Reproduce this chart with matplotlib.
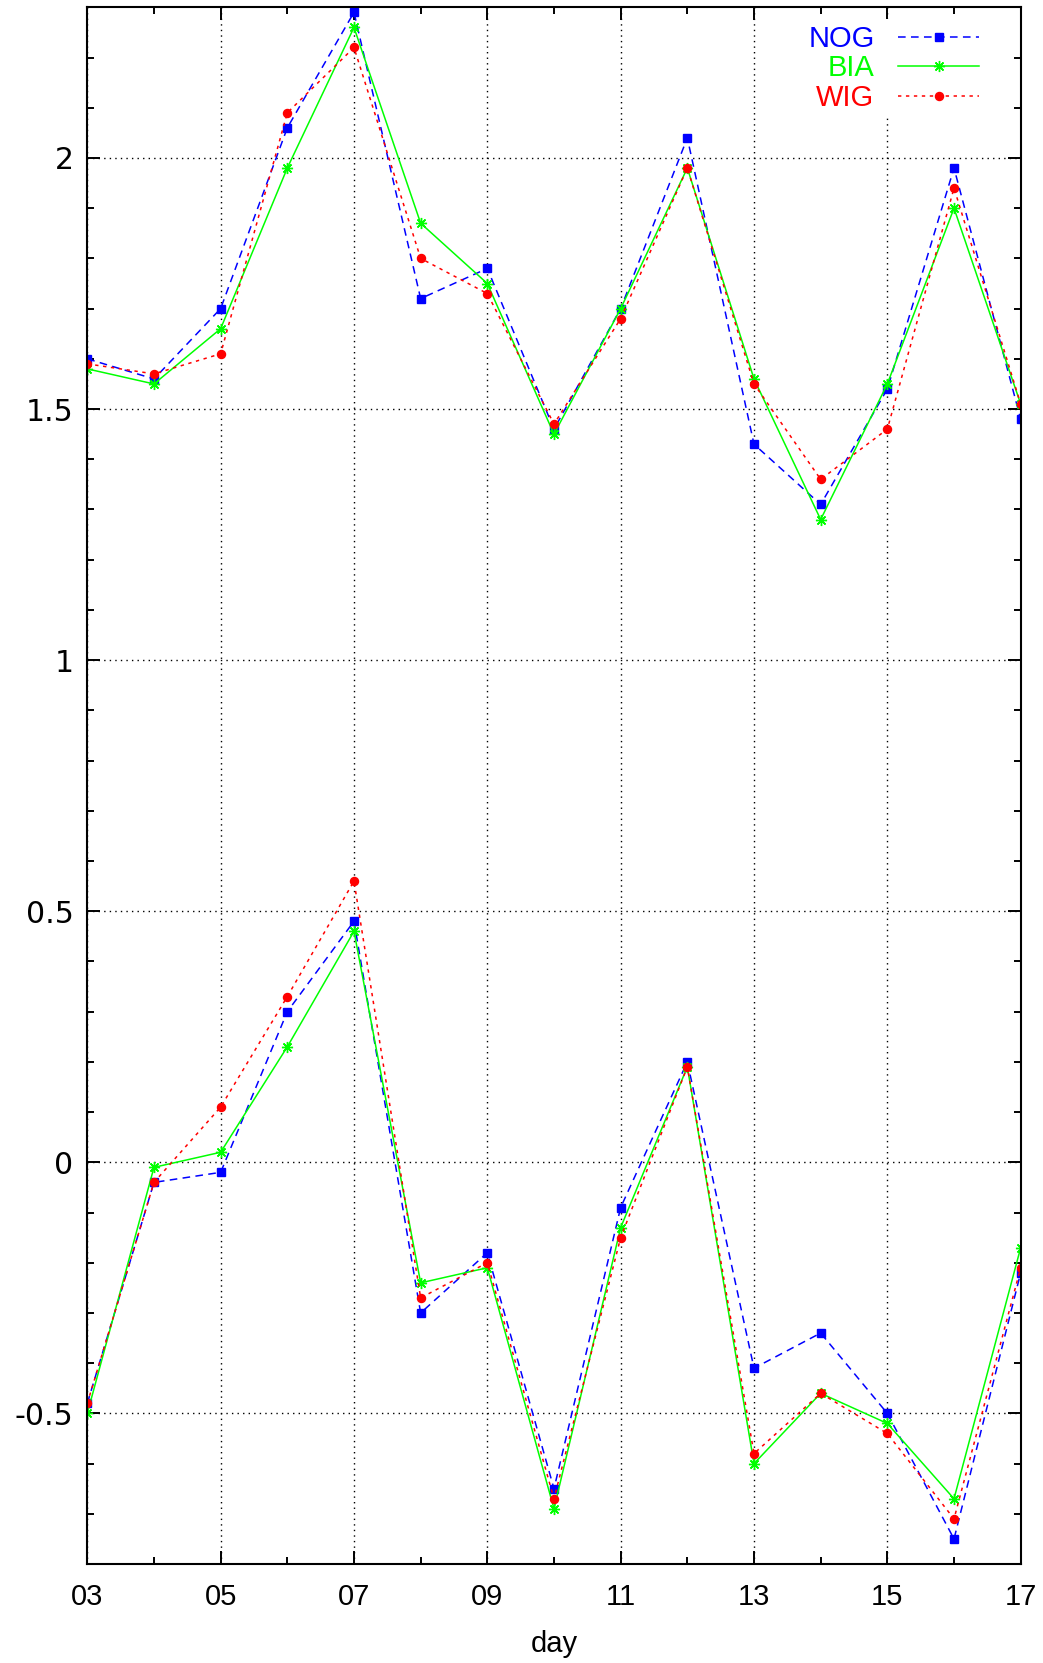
import numpy as np
import matplotlib
matplotlib.use("Agg")
import matplotlib.pyplot as plt
from matplotlib.ticker import MultipleLocator
from matplotlib import font_manager

plt.rcParams['font.family'] = ['Liberation Sans', 'DejaVu Sans']

# days on the x axis
days = [3, 4, 5, 6, 7, 8, 9, 10, 11, 12, 13, 14, 15, 16, 17]

# upper group of curves
nog_hi = [1.60, 1.56, 1.70, 2.06, 2.29, 1.72, 1.78, 1.46, 1.70, 2.04, 1.43, 1.31, 1.54, 1.98, 1.48]
bia_hi = [1.58, 1.55, 1.66, 1.98, 2.26, 1.87, 1.75, 1.45, 1.70, 1.98, 1.56, 1.28, 1.55, 1.90, 1.51]
wig_hi = [1.59, 1.57, 1.61, 2.09, 2.22, 1.80, 1.73, 1.47, 1.68, 1.98, 1.55, 1.36, 1.46, 1.94, 1.51]

# lower group of curves
nog_lo = [-0.48, -0.04, -0.02, 0.30, 0.48, -0.30, -0.18, -0.65, -0.09, 0.20, -0.41, -0.34, -0.50, -0.75, -0.22]
bia_lo = [-0.50, -0.01, 0.02, 0.23, 0.46, -0.24, -0.21, -0.69, -0.13, 0.19, -0.60, -0.46, -0.52, -0.67, -0.17]
wig_lo = [-0.48, -0.04, 0.11, 0.33, 0.56, -0.27, -0.20, -0.67, -0.15, 0.19, -0.58, -0.46, -0.54, -0.71, -0.21]

xtick_vals = [3, 5, 7, 9, 11, 13, 15, 17]
xtick_labels = ["03", "05", "07", "09", "11", "13", "15", "17"]
ytick_vals = [-0.5, 0, 0.5, 1, 1.5, 2]
ytick_labels = ["-0.5", "0", "0.5", "1", "1.5", "2"]

# narrow font for the x labels if there is one
names = {f.name for f in font_manager.fontManager.ttflist}
xfont = 'Liberation Sans Narrow' if 'Liberation Sans Narrow' in names else 'Liberation Sans'

fig = plt.figure(figsize=(10.43, 16.63), dpi=100)
ax = fig.add_axes([0.0837, 0.0595, 0.8949, 0.9361])

star = (8, 2, 0)
nog_style = dict(color='#0000ff', ls=(0, (5, 3.5)), lw=1.1, marker='s', ms=5.8)
bia_style = dict(color='#00ff00', ls='-', lw=1.1, marker=star, ms=8, mew=1.0)
wig_style = dict(color='#ff0000', ls=(0, (2.2, 3)), lw=1.1, marker='o', ms=5.8)

ax.plot(days, nog_hi, label='NOG', **nog_style)
ax.plot(days, bia_hi, label='BIA', **bia_style)
ax.plot(days, wig_hi, label='WIG', **wig_style)
ax.plot(days, nog_lo, **nog_style)
ax.plot(days, bia_lo, **bia_style)
ax.plot(days, wig_lo, **wig_style)

ax.set_xlim(3, 17)
ax.set_ylim(-0.8, 2.3)
ax.set_xticks(xtick_vals)
ax.set_xticklabels(xtick_labels, family=xfont, fontsize=21)
ax.set_yticks(ytick_vals)
ax.set_yticklabels(ytick_labels, family=['DejaVu Sans'], fontsize=21.5)
ax.xaxis.set_minor_locator(MultipleLocator(1))
ax.yaxis.set_minor_locator(MultipleLocator(0.1))

ax.tick_params(which='both', direction='in', top=True, right=True, width=1.4)
ax.tick_params(which='major', length=9.5)
ax.tick_params(which='minor', length=4.7)
ax.tick_params(axis='x', pad=14)
ax.tick_params(axis='y', pad=10)

for s in ax.spines.values():
    s.set_linewidth(1.5)

ax.grid(True, which='major', color='black', ls=(0, (1, 3)), lw=1.0)
ax.set_axisbelow(True)

ax.set_xlabel('day', fontsize=21, family=xfont, labelpad=13)

leg = ax.legend(loc='upper right', bbox_to_anchor=(0.962, 0.9925), markerfirst=False,
                frameon=True, facecolor='white', edgecolor='none', framealpha=1,
                fontsize=21, handlelength=2.8, handletextpad=0.8, labelspacing=0.05,
                borderpad=0.2, borderaxespad=0, labelcolor='linecolor')
leg.get_frame().set_boxstyle('square', pad=0)
leg.set_zorder(2.2)

fig.savefig('out.png', dpi=100)
